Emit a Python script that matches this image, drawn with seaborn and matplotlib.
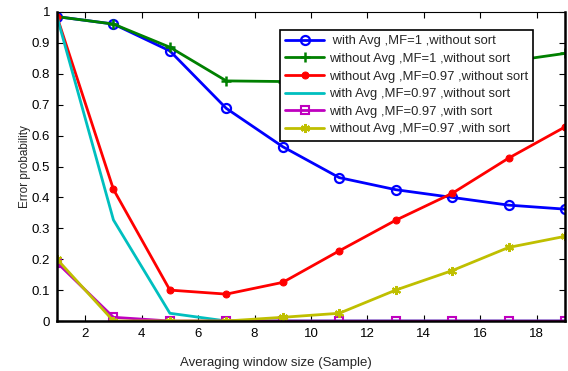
import numpy as np
import pandas as pd
import matplotlib
matplotlib.use("Agg")
import matplotlib.pyplot as plt
import seaborn as sns

sns.set_theme(style="ticks")
plt.rcParams['font.family'] = ['Liberation Sans', 'DejaVu Sans']

window = [1, 3, 5, 7, 9, 11, 13, 15, 17, 19]

avg_mf1_nosort = [0.985, 0.961, 0.874, 0.688, 0.564, 0.464, 0.425, 0.400, 0.375, 0.362]
noavg_mf1_nosort = [0.985, 0.961, 0.886, 0.777, 0.775, 0.776, 0.790, 0.810, 0.840, 0.866]
noavg_mf097_nosort = [0.985, 0.426, 0.100, 0.087, 0.125, 0.227, 0.326, 0.413, 0.527, 0.628]
avg_mf097_nosort = [0.985, 0.327, 0.025, 0.0, 0.0, 0.0, 0.0, 0.0, 0.0, 0.0]
avg_mf097_sort = [0.189, 0.012, 0.0, 0.0, 0.0, 0.0, 0.0, 0.0, 0.0, 0.0]
noavg_mf097_sort = [0.200, 0.0, 0.0, 0.0, 0.012, 0.025, 0.100, 0.163, 0.238, 0.274]

labels = [
    " with Avg ,MF=1 ,without sort",
    "without Avg ,MF=1 ,without sort",
    "without Avg ,MF=0.97 ,without sort",
    "with Avg ,MF=0.97 ,without sort",
    "with Avg ,MF=0.97 ,with sort",
    "without Avg ,MF=0.97 ,with sort",
]
series = [avg_mf1_nosort, noavg_mf1_nosort, noavg_mf097_nosort,
          avg_mf097_nosort, avg_mf097_sort, noavg_mf097_sort]

styles = [
    dict(color=(0, 0, 1), marker='o', markerfacecolor='none', markersize=6.5, markeredgewidth=1.6),
    dict(color=(0, 0.5, 0), marker='+', markersize=7, markeredgewidth=1.8),
    dict(color=(1, 0, 0), marker='o', markersize=5),
    dict(color=(0, 0.75, 0.75), marker=None),
    dict(color=(0.75, 0, 0.75), marker='s', markerfacecolor='none', markersize=5.5, markeredgewidth=1.5),
    dict(color=(0.75, 0.75, 0), marker=(6, 2, 0), markersize=6.5, markeredgewidth=1.5),
]

fig = plt.figure(figsize=(5.68, 3.71), dpi=100)
ax = fig.add_axes([57 / 568, 1 - 321 / 371, 508 / 568, 309 / 371])

for lab, vals, st in zip(labels, series, styles):
    df = pd.DataFrame({"window": window, "err": vals})
    sns.lineplot(data=df, x="window", y="err", ax=ax, label=lab, linewidth=2,
                 markeredgecolor=st["color"], **st)

ax.set_xlim(1, 19)
ax.set_ylim(0, 1)
ax.set_xticks(np.arange(2, 19, 2))
ax.set_yticks(np.round(np.arange(0, 1.01, 0.1), 1))
ax.set_yticklabels(["0"] + [f"{v:.1f}" for v in np.arange(0.1, 0.95, 0.1)] + ["1"])
ax.tick_params(direction='in', top=True, right=True, labelsize=9.5, length=4, width=0.8,
               colors='black', pad=5)
for s in ax.spines.values():
    s.set_visible(True)
    s.set_color('black')
ax.spines['left'].set_linewidth(1.8)
ax.spines['bottom'].set_linewidth(1.8)
ax.spines['right'].set_linewidth(1.8)
ax.spines['top'].set_linewidth(0.8)

ax.set_xlabel("Averaging window size (Sample)", fontsize=9.5)
ax.xaxis.set_label_coords(0.431, -0.118)
ax.set_ylabel("Error probability", fontsize=8.5)
ax.yaxis.set_label_coords(-0.052, 0.5)

leg = ax.legend(loc='upper left', bbox_to_anchor=(0.439, 0.942), fontsize=9.4,
                frameon=True, fancybox=False, edgecolor='black', framealpha=1,
                handlelength=3.0, borderpad=0.4, labelspacing=0.42, handletextpad=0.35,
                borderaxespad=0)
leg.get_frame().set_linewidth(1.2)

fig.savefig("out.png", dpi=100)
